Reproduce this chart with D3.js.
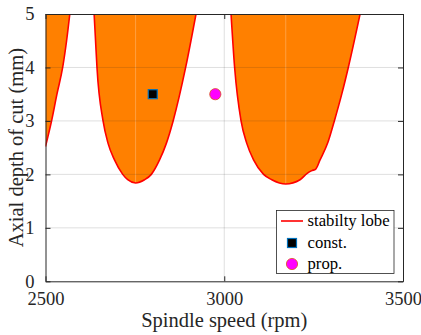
<!DOCTYPE html>
<html>
<head>
<meta charset="utf-8">
<script src="https://cdn.jsdelivr.net/npm/d3@7"></script>
<style>
  body { margin: 0; background: #fff; }
  svg { display: block; }
  svg text { font-family: "Liberation Serif", "Times New Roman", serif; }
</style>
</head>
<body>
<svg id="chart" width="421" height="335"></svg>
<script>
// stability lobes (rpm, mm)
const lobe1Rpm = [2500, 2517, 2532, 2548, 2559, 2568]
const lobe1Depth = [2.52, 3, 3.5, 4, 4.5, 5]
const lobe2Rpm = [2636, 2640, 2644, 2661, 2675, 2693, 2716, 2730, 2752, 2777, 2796, 2819, 2838, 2857, 2892, 2921]
const lobe2Depth = [5, 4.5, 4, 3, 2.58, 2.27, 2, 1.9, 1.84, 1.9, 2, 2.27, 2.58, 3, 4, 5]
const lobe3Rpm = [3019, 3029, 3047, 3063, 3082, 3110, 3133, 3172, 3212, 3232, 3245, 3256, 3268, 3290, 3308, 3329, 3347, 3380]
const lobe3Depth = [5, 4, 3, 2.58, 2.27, 2, 1.9, 1.82, 1.9, 2.02, 2.07, 2.1, 2.27, 2.6, 3, 3.51, 4, 5]

const constRpm = [2800]
const constDepth = [3.5]
const propRpm = [2975]
const propDepth = [3.5]

const xTicks = [2500, 3000, 3500]
const yTicks = [0, 1, 2, 3, 4, 5]
const legendLabels = ["stabilty lobe", "const.", "prop."]

const margin = { left: 45.5, right: 18, top: 14, bottom: 53.7 }
const width = 421
const height = 335
const axisColor = "#262626"
const serif = "'Liberation Serif', 'Times New Roman', serif"

const svg = d3.select("#chart")

const x = d3.scaleLinear().domain([2500, 3500]).range([margin.left, width - margin.right])
const y = d3.scaleLinear().domain([0, 5]).range([height - margin.bottom, margin.top])

const lobes = [
    [lobe1Rpm, lobe1Depth],
    [lobe2Rpm, lobe2Depth],
    [lobe3Rpm, lobe3Depth]
].map(([r, d]) => r.map((v, i) => ({ rpm: v, depth: d[i] })))

svg.append("defs").append("clipPath").attr("id", "plotClip")
    .append("rect")
    .attr("x", x(2500)).attr("y", y(5))
    .attr("width", x(3500) - x(2500)).attr("height", y(0) - y(5))

const plot = svg.append("g").attr("clip-path", "url(#plotClip)")

const area = d3.area()
    .x(d => x(d.rpm))
    .y0(d => y(d.depth))
    .y1(y(5))
    .curve(d3.curveMonotoneX)

const line = d3.line()
    .x(d => x(d.rpm))
    .y(d => y(d.depth))
    .curve(d3.curveMonotoneX)

plot.selectAll("path.fill")
    .data(lobes)
    .join("path")
    .attr("class", "fill")
    .attr("d", area)
    .attr("fill", "#ff8000")

// faint patch seam at each lobe minimum
const lowest = d => d3.least(d, p => p.depth)
plot.selectAll("line.seam")
    .data(lobes.slice(1))
    .join("line")
    .attr("class", "seam")
    .attr("x1", d => x(lowest(d).rpm))
    .attr("x2", d => x(lowest(d).rpm))
    .attr("y1", d => y(lowest(d).depth))
    .attr("y2", y(5))
    .attr("stroke", "#fff")
    .attr("stroke-opacity", 0.25)
    .attr("stroke-width", 1)

// grid
const grid = svg.append("g")
    .attr("stroke", axisColor)
    .attr("stroke-opacity", 0.15)
    .attr("stroke-width", 1)
grid.selectAll("line.gx")
    .data(xTicks.slice(1, -1))
    .join("line")
    .attr("x1", d => x(d)).attr("x2", d => x(d))
    .attr("y1", y(0)).attr("y2", y(5))
grid.selectAll("line.gy")
    .data(yTicks.slice(1, -1))
    .join("line")
    .attr("y1", d => y(d)).attr("y2", d => y(d))
    .attr("x1", x(2500)).attr("x2", x(3500))

plot.selectAll("path.lobe")
    .data(lobes)
    .join("path")
    .attr("class", "lobe")
    .attr("d", line)
    .attr("fill", "none")
    .attr("stroke", "#ff0000")
    .attr("stroke-width", 1.6)

// axes, ticks inward on all four sides
const tickSize = 5
const fmt = d3.format("d")
const xAxisB = d3.axisBottom(x).tickValues(xTicks).tickFormat(fmt).tickSizeInner(-tickSize).tickSizeOuter(0).tickPadding(10.5)
const xAxisT = d3.axisTop(x).tickValues(xTicks).tickSizeInner(-tickSize).tickSizeOuter(0).tickFormat("")
const yAxisL = d3.axisLeft(y).tickValues(yTicks).tickFormat(fmt).tickSizeInner(-tickSize).tickSizeOuter(0).tickPadding(11)
const yAxisR = d3.axisRight(y).tickValues(yTicks).tickSizeInner(-tickSize).tickSizeOuter(0).tickFormat("")

function styleAxis(g) {
    g.attr("font-family", serif).attr("font-size", 18.5)
    g.select(".domain").attr("stroke", axisColor).attr("stroke-width", 1)
    g.selectAll(".tick line").attr("stroke", axisColor)
    g.selectAll(".tick text").attr("fill", axisColor)
}

svg.append("g").attr("transform", `translate(0,${y(0)})`).call(xAxisB).call(styleAxis)
svg.append("g").attr("transform", `translate(0,${y(5)})`).call(xAxisT).call(styleAxis)
svg.append("g").attr("transform", `translate(${x(2500)},0)`).call(yAxisL).call(styleAxis)
svg.append("g").attr("transform", `translate(${x(3500)},0)`).call(yAxisR).call(styleAxis)

// markers
svg.selectAll("rect.const")
    .data(constRpm.map((v, i) => ({ rpm: v, depth: constDepth[i] })))
    .join("rect")
    .attr("class", "const")
    .attr("x", d => x(d.rpm) - 4.5).attr("y", d => y(d.depth) - 4.5)
    .attr("width", 9).attr("height", 9)
    .attr("fill", "#000")
    .attr("stroke", "#0072bd")
    .attr("stroke-width", 1.2)

svg.selectAll("circle.prop")
    .data(propRpm.map((v, i) => ({ rpm: v, depth: propDepth[i] })))
    .join("circle")
    .attr("class", "prop")
    .attr("cx", d => x(d.rpm)).attr("cy", d => y(d.depth))
    .attr("r", 5.6)
    .attr("fill", "#ff00ff")
    .attr("stroke", "#d95319")
    .attr("stroke-width", 0.8)

// axis titles
svg.append("text")
    .attr("x", x(3000)).attr("y", 327)
    .attr("text-anchor", "middle")
    .attr("fill", axisColor)
    .attr("font-family", serif)
    .attr("font-size", 20.5)
    .text("Spindle speed (rpm)")

svg.append("text")
    .attr("transform", `translate(23,${(y(0) + y(5)) / 2}) rotate(-90)`)
    .attr("text-anchor", "middle")
    .attr("fill", axisColor)
    .attr("font-family", serif)
    .attr("font-size", 20.5)
    .text("Axial depth of cut (mm)")

// legend
const legend = svg.append("g").attr("transform", "translate(276.5,210.5)")
legend.append("rect")
    .attr("width", 117.5).attr("height", 63)
    .attr("fill", "#fff")
    .attr("stroke", axisColor)
    .attr("stroke-width", 0.8)

const rowY = [10.5, 32.5, 53.5]
legend.append("line")
    .attr("x1", 4.5).attr("x2", 26.5)
    .attr("y1", rowY[0]).attr("y2", rowY[0])
    .attr("stroke", "#ff0000").attr("stroke-width", 1.6)
legend.append("rect")
    .attr("x", 15.5 - 4.5).attr("y", rowY[1] - 4.5)
    .attr("width", 9).attr("height", 9)
    .attr("fill", "#000").attr("stroke", "#0072bd").attr("stroke-width", 1.2)
legend.append("circle")
    .attr("cx", 15.5).attr("cy", rowY[2]).attr("r", 5.6)
    .attr("fill", "#ff00ff").attr("stroke", "#d95319").attr("stroke-width", 0.8)

legend.selectAll("text")
    .data(legendLabels)
    .join("text")
    .attr("x", 31)
    .attr("y", (d, i) => rowY[i])
    .attr("dy", "0.32em")
    .attr("fill", "#000")
    .attr("font-family", serif)
    .attr("font-size", 16.7)
    .text(d => d)
</script>
</body>
</html>
